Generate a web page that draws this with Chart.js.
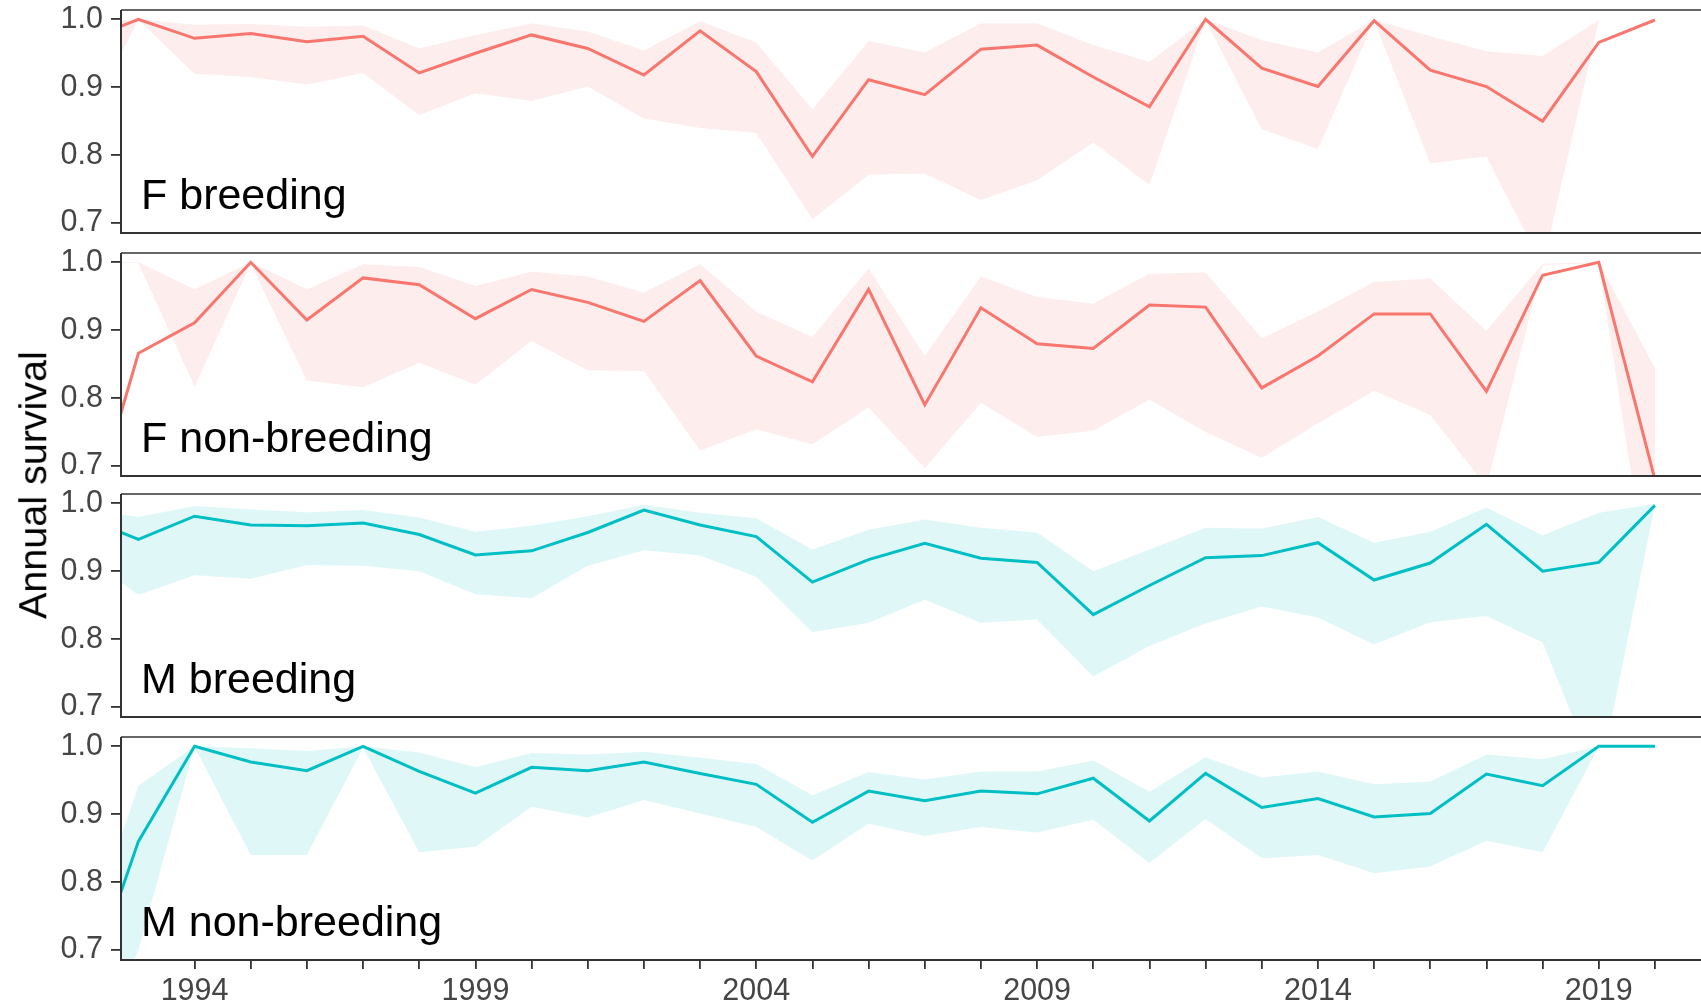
<!DOCTYPE html>
<html><head><meta charset="utf-8">
<script src="https://cdn.jsdelivr.net/npm/chart.js@4.4.1/dist/chart.umd.min.js"></script>
<style>
html,body{margin:0;padding:0;background:#fff;}
#wrap{position:relative;width:1701px;height:1004px;overflow:hidden;background:#fff;}
canvas{position:absolute;left:0;}
#ytitle{position:absolute;left:33px;top:485px;transform:translate(-50%,-50%) rotate(-90deg);font-family:"Liberation Sans",Arial,sans-serif;font-size:39.5px;line-height:1;white-space:nowrap;color:#000;}
</style></head><body>
<div id="wrap">
<canvas id="c0"></canvas>
<canvas id="c1"></canvas>
<canvas id="c2"></canvas>
<canvas id="c3"></canvas>
<div id="ytitle">Annual survival</div>
</div>
<script>
// ---- data ----
const years = [1992,1993,1994,1995,1996,1997,1998,1999,2000,2001,2002,2003,2004,2005,2006,2007,2008,2009,2010,2011,2012,2013,2014,2015,2016,2017,2018,2019,2020];

const fbMean  = [0.967,1.000,0.972,0.979,0.967,0.975,0.921,0.950,0.977,0.957,0.918,0.983,0.923,0.798,0.911,0.889,0.956,0.962,0.915,0.871,1.000,0.928,0.901,0.998,0.925,0.901,0.850,0.966,0.999];
const fbUpper = [0.995,1.000,0.992,0.993,0.989,0.991,0.957,0.977,0.994,0.982,0.954,0.997,0.966,0.867,0.968,0.951,0.994,0.994,0.962,0.937,1.000,0.969,0.951,0.999,0.975,0.953,0.946,0.999,null];
const fbLower = [0.840,0.999,0.920,0.915,0.904,0.921,0.859,0.891,0.880,0.901,0.854,0.840,0.833,0.706,0.771,0.773,0.734,0.763,0.819,0.756,0.999,0.838,0.809,0.998,0.788,0.798,0.637,0.997,null];

const fnMean  = [0.583,0.866,0.911,1.000,0.915,0.977,0.967,0.917,0.960,0.941,0.913,0.973,0.862,0.824,0.960,0.790,0.933,0.880,0.873,0.937,0.934,0.815,0.862,0.924,0.924,0.810,0.981,1.000,0.680];
const fnUpper = [1.000,1.000,0.960,1.000,0.960,0.997,0.993,0.965,0.986,0.979,0.955,0.997,0.927,0.890,0.991,0.862,0.979,0.949,0.939,0.983,0.985,0.888,0.927,0.971,0.976,0.899,0.998,1.000,0.844];
const fnLower = [0.998,0.999,0.817,0.998,0.826,0.816,0.852,0.820,0.884,0.841,0.840,0.723,0.754,0.732,0.786,0.697,0.793,0.743,0.752,0.798,0.750,0.712,0.763,0.811,0.775,0.670,0.996,0.999,0.460];

const mbMean  = [0.980,0.947,0.981,0.968,0.967,0.971,0.954,0.924,0.930,0.957,0.990,0.968,0.951,0.884,0.917,0.941,0.919,0.913,0.836,0.879,0.920,0.923,0.942,0.887,0.912,0.969,0.900,0.913,0.997];
const mbUpper = [0.993,0.980,0.996,0.991,0.987,0.990,0.979,0.958,0.967,0.981,0.998,0.986,0.978,0.932,0.961,0.976,0.964,0.957,0.900,0.932,0.964,0.963,0.980,0.942,0.958,0.994,0.953,0.986,0.999];
const mbLower = [0.925,0.865,0.894,0.889,0.909,0.908,0.900,0.866,0.860,0.908,0.931,0.923,0.892,0.810,0.824,0.858,0.824,0.829,0.745,0.790,0.823,0.848,0.832,0.792,0.825,0.834,0.795,0.590,0.997];

const mnMean  = [0.620,0.860,1.000,0.977,0.964,1.000,0.963,0.931,0.969,0.964,0.977,0.960,0.944,0.888,0.934,0.920,0.934,0.930,0.953,0.890,0.960,0.910,0.923,0.896,0.901,0.959,0.942,1.000,1.000];
const mnUpper = [0.700,0.942,1.000,0.997,0.993,1.000,0.991,0.969,0.990,0.988,0.992,0.983,0.974,0.928,0.962,0.951,0.963,0.963,0.979,0.933,0.984,0.954,0.963,0.944,0.948,0.988,0.981,1.000,null];
const mnLower = [0.500,0.700,0.999,0.840,0.840,0.998,0.844,0.852,0.911,0.895,0.921,0.901,0.881,0.832,0.886,0.868,0.881,0.873,0.892,0.828,0.893,0.835,0.840,0.813,0.823,0.861,0.844,0.999,null];

const panelLabels = ["F breeding","F non-breeding","M breeding","M non-breeding"];
const yTickValues = [0.7,0.8,0.9,1.0];
const xTickYears = [1994,1995,1996,1997,1998,1999,2000,2001,2002,2003,2004,2005,2006,2007,2008,2009,2010,2011,2012,2013,2014,2015,2016,2017,2018,2019,2020];
const xLabelYears = [1994,1999,2004,2009,2014,2019];

// ---- styling / layout ----
const FONT = '"Liberation Sans", Arial, sans-serif';
const RED = '#F8766D', RED_BAND = 'rgba(240,110,100,0.12)';
const CYAN = '#00BFC4', CYAN_BAND = 'rgba(0,191,196,0.12)';
const TICK_COL = '#454545';
const panels = [
  {mean:fbMean, up:fbUpper, lo:fbLower, line:RED, band:RED_BAND},
  {mean:fnMean, up:fnUpper, lo:fnLower, line:RED, band:RED_BAND},
  {mean:mbMean, up:mbUpper, lo:mbLower, line:CYAN, band:CYAN_BAND},
  {mean:mnMean, up:mnUpper, lo:mnLower, line:CYAN, band:CYAN_BAND}
];
const panelTops = [10, 253, 494, 737];
const plotH = 223;
const PAD = 10;
const W = 1701, H = 1004;

const pts = arr => years.map((x,k)=>({x:x, y:arr[k]}));

function framePlugin(idx){
  return {
    id:'frame'+idx,
    afterDatasetsDraw(chart){
      const ctx = chart.ctx, a = chart.chartArea;
      ctx.save();
      ctx.font = '43px ' + FONT;
      ctx.fillStyle = '#000';
      ctx.textAlign = 'left';
      ctx.textBaseline = 'alphabetic';
      ctx.fillText(panelLabels[idx], a.left + 20, chart.scales.y.getPixelForValue(0.72));
      ctx.restore();
    },
    afterDraw(chart){
      const ctx = chart.ctx, a = chart.chartArea;
      ctx.save();
      ctx.strokeStyle = '#333333';
      ctx.lineWidth = 1.4;
      ctx.beginPath(); ctx.moveTo(a.left, a.top); ctx.lineTo(a.right+2, a.top); ctx.stroke();
      ctx.lineWidth = 2;
      ctx.beginPath(); ctx.moveTo(a.left, a.top); ctx.lineTo(a.left, a.bottom); ctx.lineTo(a.right+2, a.bottom); ctx.stroke();
      ctx.restore();
    }
  };
}

panels.forEach((p, i) => {
  const cv = document.getElementById('c'+i);
  const last = (i === 3);
  const top = panelTops[i] - PAD;
  const h = last ? (H - top) : (plotH + 2*PAD);
  const xAxisH = H - (panelTops[3] + plotH);
  cv.style.top = top + 'px';
  cv.width = W; cv.height = h;
  cv.style.width = W + 'px'; cv.style.height = h + 'px';
  new Chart(cv, {
    type: 'line',
    data: { datasets: [
      {data: pts(p.mean), borderColor: p.line, borderWidth: 3, pointRadius: 0, fill: false, tension: 0, clip: 0},
      {data: pts(p.up), borderWidth: 0, borderColor: 'rgba(0,0,0,0)', pointRadius: 0, fill: '+1', backgroundColor: p.band, tension: 0},
      {data: pts(p.lo), borderWidth: 0, borderColor: 'rgba(0,0,0,0)', pointRadius: 0, fill: false, tension: 0}
    ]},
    options: {
      responsive: false, animation: false, devicePixelRatio: 1,
      layout: {padding: {top: PAD, bottom: last ? 0 : PAD, left: 0, right: 0}},
      plugins: {legend: {display: false}, tooltip: {enabled: false}},
      scales: {
        x: {
          type: 'linear', min: 1992.69, max: 2020.82, display: last,
          afterBuildTicks: s => { s.ticks = xTickYears.map(v => ({value: v})); },
          afterFit: s => { s.height = last ? xAxisH : 0; s.paddingLeft = 0; s.paddingRight = 0; s.paddingTop = 0; s.paddingBottom = 0; },
          grid: {drawOnChartArea: false, drawTicks: true, tickLength: 9, color: '#333333', lineWidth: 1.8},
          border: {display: false},
          ticks: {autoSkip: false, maxRotation: 0, minRotation: 0, padding: 4, color: TICK_COL,
                  font: {family: FONT, size: 30.5},
                  callback: v => xLabelYears.includes(v) ? String(v) : ''}
        },
        y: {
          min: 0.6853, max: 1.0137,
          afterBuildTicks: s => { s.ticks = yTickValues.map(v => ({value: v})); },
          afterFit: s => { s.width = 121; s.paddingTop = 0; s.paddingBottom = 0; s.paddingLeft = 0; s.paddingRight = 0; },
          grid: {drawOnChartArea: false, drawTicks: true, tickLength: 10, color: '#333333', lineWidth: 1.8},
          border: {display: false},
          ticks: {padding: 8, color: TICK_COL, font: {family: FONT, size: 30.5},
                  callback: v => Number(v).toFixed(1)}
        }
      }
    },
    plugins: [framePlugin(i)]
  });
});
</script>
</body></html>
